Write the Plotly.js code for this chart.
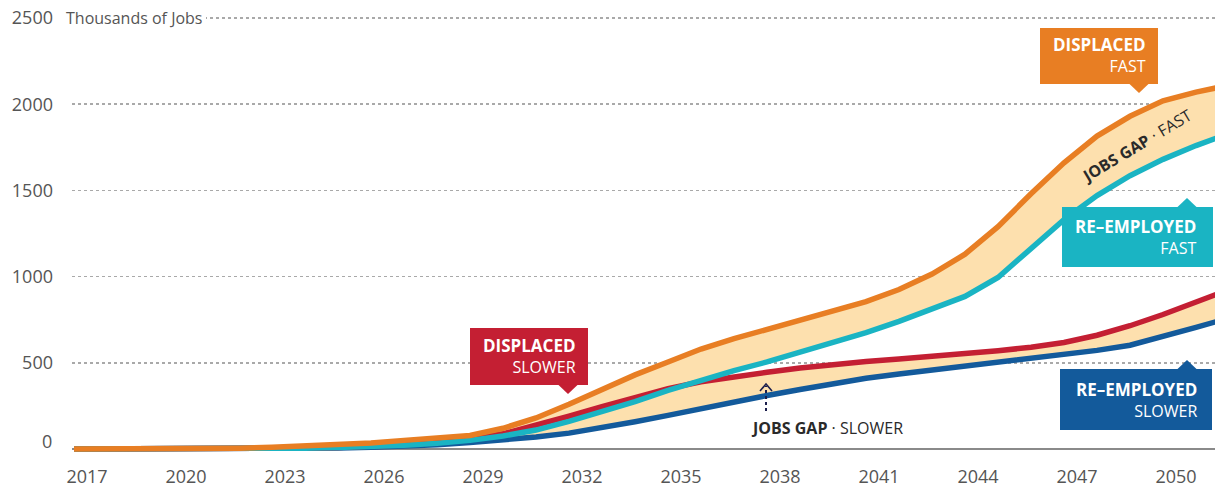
<!DOCTYPE html>
<html><head><meta charset="utf-8">
<script src="https://cdn.plot.ly/plotly-3.0.1.min.js"></script>
<style>html,body{margin:0;padding:0;background:#fff}#chart{width:1215px;height:492px}</style>
</head><body><div id="chart"></div>
<script>
// ---- data (thousands of jobs) ----
const years = [2017,2018,2019,2020,2021,2022,2023,2024,2025,2026,2027,2028,2029,2030,2031,2032,2033,2034,2035,2036,2037,2038,2039,2040,2041,2042,2043,2044,2045,2046,2047,2048,2049,2050,2051,2052];
const displacedFast   = [0,0,0,0,2,5,10,17,25,35,50,65,78,120,180,260,345,430,505,580,640,695,750,800,855,925,1015,1130,1290,1480,1660,1815,1930,2020,2070,2110];
const reemployedFast  = [0,0,0,0,0,1,3,5,9,14,22,34,50,75,110,160,215,275,340,400,455,505,560,615,675,740,810,885,995,1160,1330,1470,1585,1680,1760,1830];
const displacedSlower = [0,0,0,0,0,0,2,5,9,15,25,38,58,88,135,190,245,300,350,390,420,445,470,490,508,522,537,552,570,590,618,660,715,780,850,925];
const reemployedSlower= [0,0,0,0,0,0,1,3,6,10,16,25,37,52,70,92,122,158,195,235,272,310,345,378,410,435,458,480,500,522,548,572,602,650,705,760];
const yTicks = [500,1000,1500,2000,2500];
const xTicks = years.filter(y => (y - 2017) % 3 === 0 && y <= 2050);

// ---- styling ----
const C = {orange:'#E87E23', red:'#C41F33', cyan:'#1AB4C3', blue:'#135A9B', fill:'#FDE0AE', tick:'#555555', dark:'#2a2a2a'};
const FONT = '"Open Sans", "Noto Sans", sans-serif';
const W=1215, H=492, M={l:72, r:0, t:10, b:36};
const PW=W-M.l-M.r, PH=H-M.t-M.b;
const px = x => (x - M.l)/PW;
const py = y => (H - M.b - y)/PH;

const base = {x: years, mode:'lines', hoverinfo:'skip', showlegend:false};
const traces = [
  Object.assign({}, base, {y: reemployedSlower, line:{width:0, color:C.blue}}),
  Object.assign({}, base, {y: displacedSlower, line:{width:0, color:C.red}, fill:'tonexty', fillcolor:C.fill}),
  Object.assign({}, base, {y: reemployedFast, line:{width:0, color:C.cyan}}),
  Object.assign({}, base, {y: displacedFast, line:{width:0, color:C.orange}, fill:'tonexty', fillcolor:C.fill}),
  Object.assign({}, base, {y: reemployedSlower, line:{width:5.5, color:C.blue}}),
  Object.assign({}, base, {y: displacedSlower, line:{width:5.5, color:C.red}}),
  Object.assign({}, base, {y: reemployedFast, line:{width:5.5, color:C.cyan}}),
  Object.assign({}, base, {y: displacedFast, line:{width:5.5, color:C.orange}})
];

function box(x0,y0,x1,y1,color){
  return {type:'rect', xref:'paper', yref:'paper', x0:px(x0), x1:px(x1), y0:py(y1), y1:py(y0), fillcolor:color, line:{width:0}, layer:'above'};
}
function tri(pts,color){
  const d = 'M ' + pts.map(p => px(p[0]) + ',' + py(p[1])).join(' L ') + ' Z';
  return {type:'path', xref:'paper', yref:'paper', path:d, fillcolor:color, line:{width:0}, layer:'above'};
}
function label(line1, line2, xr, yc){
  return {xref:'paper', yref:'paper', x:px(xr), y:py(yc), xanchor:'right', yanchor:'middle', align:'right', showarrow:false,
    text:'<span style="font-size:17px"><b>'+line1+'</b></span><br>'+line2, font:{family:FONT, size:16, color:'#ffffff'}};
}

const shapes = [
  box(1040,28,1158,84,C.orange), tri([[1129,83.5],[1149,83.5],[1139,93]],C.orange),
  box(1062,207,1213,267,C.cyan), tri([[1177,207.5],[1197,207.5],[1187,198]],C.cyan),
  box(1060,369,1212,430,C.blue), tri([[1177,369.5],[1197,369.5],[1187,360]],C.blue),
  box(470,328,588,385,C.red), tri([[558,384.5],[578,384.5],[568,394]],C.red),
  {type:'line', xref:'paper', yref:'paper', x0:px(766), x1:px(766), y0:py(411), y1:py(386), line:{color:'#1c1f4d', width:2, dash:'dot'}, layer:'above'},
  {type:'path', xref:'paper', yref:'paper', path:`M ${px(760)},${py(391)} L ${px(766)},${py(384)} L ${px(772)},${py(391)}`, line:{color:'#1c1f4d', width:1.6}, layer:'above'}
];

const annotations = [
  {xref:'paper', yref:'y', x:px(62), y:2500, xanchor:'left', yanchor:'middle', showarrow:false, text:'Thousands of Jobs',
   bgcolor:'#ffffff', borderpad:4, borderwidth:0, font:{family:FONT, size:16, color:C.tick}},
  {xref:'paper', yref:'y', x:px(54), y:0, yshift:8, xanchor:'right', yanchor:'middle', showarrow:false, text:'0',
   font:{family:FONT, size:18, color:C.tick}},
  label('DISPLACED','FAST',1148,55),
  label('RE–EMPLOYED','FAST',1199,237),
  label('RE–EMPLOYED','SLOWER',1199,400),
  label('DISPLACED','SLOWER',578,356),
  {xref:'paper', yref:'paper', x:px(827), y:py(428), xanchor:'center', yanchor:'middle', showarrow:false,
   text:'<b>JOBS GAP</b> · SLOWER', font:{family:FONT, size:16, color:C.dark}},
  {xref:'paper', yref:'paper', x:px(1136), y:py(146), xanchor:'center', yanchor:'middle', showarrow:false, textangle:-31,
   text:'<b>JOBS GAP</b> · FAST', font:{family:FONT, size:16, color:C.dark}}
];

const layout = {
  width:W, height:H, margin:M, paper_bgcolor:'#ffffff', plot_bgcolor:'#ffffff', showlegend:false,
  font:{family:FONT},
  xaxis:{range:[2017-2/33, 2017+(1215-74)/33], tickvals:xTicks, ticktext:xTicks.map(String), showgrid:false, zeroline:false,
    showline:false, ticks:'', ticklabelshift:13, ticklabelstandoff:8, tickfont:{family:FONT, size:18, color:C.tick}, fixedrange:true},
  yaxis:{range:[-40.6, 2546.4], tickvals:yTicks, ticktext:yTicks.map(String), showgrid:true, gridcolor:'#a9a9a9', griddash:'dot', gridwidth:1.5,
    zeroline:true, zerolinecolor:'#8a8a8a', zerolinewidth:2, showline:false, ticks:'', ticklabelstandoff:18,
    tickfont:{family:FONT, size:18, color:C.tick}, fixedrange:true},
  shapes:shapes, annotations:annotations
};
Plotly.newPlot('chart', traces, layout, {displayModeBar:false, staticPlot:true});
</script></body></html>
